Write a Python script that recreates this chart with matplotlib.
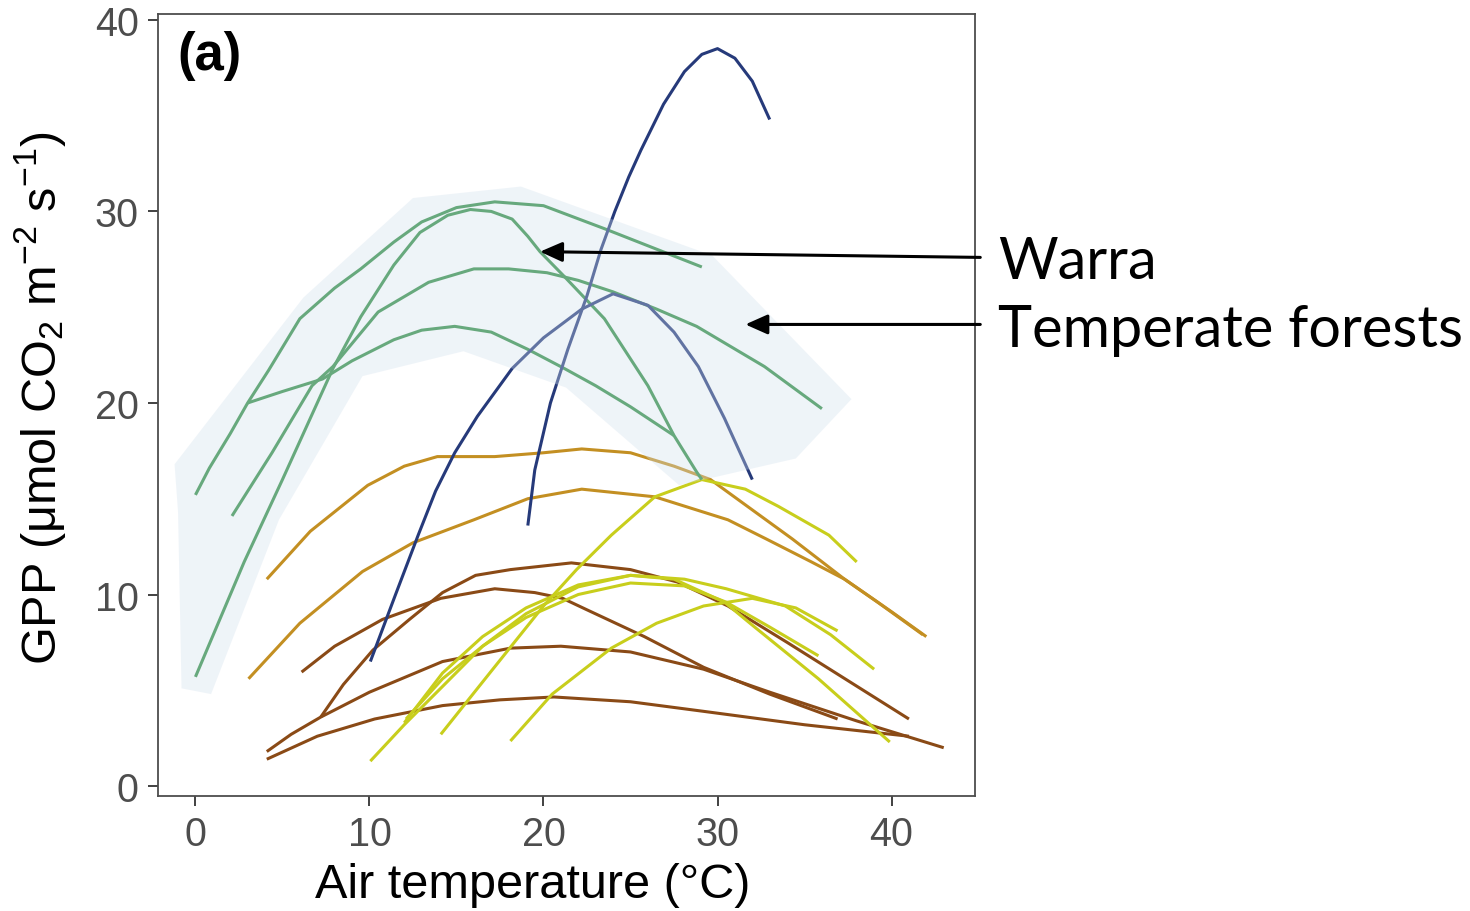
import matplotlib
matplotlib.use("Agg")
import matplotlib.pyplot as plt
from matplotlib.patches import Polygon

plt.rcParams['font.family'] = ['Liberation Sans', 'DejaVu Sans']
plt.rcParams['mathtext.fontset'] = 'custom'
plt.rcParams['mathtext.rm'] = 'Liberation Sans'
plt.rcParams['mathtext.default'] = 'regular'

# temperate forest sites (green), Warra is gB
gA_x = [0, 0.8, 2.0, 3.0, 4.2, 6.0, 8.0, 9.5, 11.4, 13.0, 15.0, 17.2, 20.0, 23.5, 29.1]
gA_y = [15.2, 16.6, 18.4, 20.0, 21.7, 24.4, 26.0, 27.0, 28.4, 29.45, 30.2, 30.5, 30.3, 29.1, 27.1]
gB_x = [0, 2.8, 5.0, 7.9, 9.5, 11.4, 12.9, 14.5, 15.8, 17.0, 18.2, 19.1, 19.8, 21.2, 23.5, 26.0, 27.5, 28.8, 29.1]
gB_y = [5.7, 11.7, 16.0, 21.8, 24.5, 27.2, 28.9, 29.8, 30.1, 30.0, 29.6, 28.7, 27.9, 26.6, 24.4, 20.9, 18.3, 16.4, 16.0]
gC_x = [2.1, 4.4, 6.7, 7.9, 10.5, 13.4, 16.0, 18.0, 20.2, 22.0, 24.0, 26.5, 28.8, 32.7, 36.0]
gC_y = [14.1, 17.4, 20.9, 21.9, 24.75, 26.3, 27.0, 27.0, 26.8, 26.4, 25.8, 24.9, 24.0, 21.9, 19.7]
gD_x = [3.0, 5.0, 7.3, 9.0, 11.4, 13.0, 14.9, 17.0, 19.1, 21.2, 23.0, 25.0, 27.5]
gD_y = [20.0, 20.6, 21.25, 22.2, 23.3, 23.8, 24.0, 23.7, 22.8, 21.8, 20.9, 19.8, 18.3]

# blue sites
b1_x = [19.1, 19.5, 20.4, 21.4, 22.5, 23.3, 24.1, 24.9, 25.6, 26.9, 28.1, 29.1, 30.0, 31.0, 32.0, 33.0]
b1_y = [13.6, 16.5, 20.0, 22.8, 25.6, 28.0, 30.0, 31.8, 33.2, 35.6, 37.3, 38.2, 38.5, 38.0, 36.8, 34.8]
b2_x = [10.05, 11.5, 12.8, 13.8, 14.9, 16.2, 18.2, 20.0, 22.2, 24.0, 26.0, 27.5, 28.9, 30.4, 32.0]
b2_y = [6.5, 10.0, 13.1, 15.4, 17.4, 19.3, 21.8, 23.4, 24.9, 25.7, 25.1, 23.7, 21.9, 19.2, 16.0]

# ochre sites
o1_x = [4.1, 6.6, 9.9, 12.0, 13.9, 17.2, 20.0, 22.2, 25.0, 27.5, 29.6, 34.3, 37.3, 40.0, 42.0]
o1_y = [10.8, 13.3, 15.7, 16.7, 17.2, 17.2, 17.4, 17.6, 17.4, 16.7, 16.0, 12.9, 10.8, 9.1, 7.8]
o2_x = [3.05, 6.0, 9.6, 12.5, 16.0, 19.1, 22.2, 26.4, 30.6, 32.8, 35.4, 37.3, 39.2, 41.8]
o2_y = [5.6, 8.5, 11.2, 12.7, 13.9, 15.0, 15.5, 15.1, 13.9, 12.9, 11.7, 10.8, 9.6, 7.9]

# brown sites
r1_x = [6.1, 8.0, 10.75, 14.1, 17.2, 19.5, 21.1, 22.5, 25.8, 29.2, 33.0, 36.9]
r1_y = [5.95, 7.3, 8.7, 9.8, 10.3, 10.1, 9.8, 9.2, 7.8, 6.2, 4.8, 3.5]
r2_x = [7.2, 8.5, 10.2, 12.3, 14.2, 16.1, 18.1, 21.6, 25.0, 27.7, 30.6, 34.0, 37.5, 41.0]
r2_y = [3.6, 5.3, 7.1, 8.7, 10.1, 11.0, 11.3, 11.65, 11.3, 10.65, 9.4, 7.5, 5.5, 3.5]
r3_x = [4.1, 5.5, 7.2, 10.0, 14.2, 18.1, 21.0, 25.0, 29.2, 33.0, 38.0, 43.0]
r3_y = [1.8, 2.7, 3.6, 4.9, 6.5, 7.2, 7.3, 7.0, 6.1, 4.9, 3.4, 2.0]
r4_x = [4.1, 7.0, 10.3, 14.2, 17.5, 20.6, 25.0, 29.2, 35.0, 41.0]
r4_y = [1.4, 2.6, 3.5, 4.2, 4.5, 4.65, 4.4, 3.9, 3.2, 2.6]

# yellow sites
yA_x = [14.1, 17.0, 20.0, 21.9, 23.9, 26.4, 29.1, 31.6, 33.5, 36.4, 38.0]
yA_y = [2.7, 6.0, 9.4, 11.3, 13.1, 15.1, 16.0, 15.5, 14.6, 13.1, 11.7]
yB_x = [10.05, 12.0, 14.2, 16.5, 19.0, 22.0, 25.0, 27.5, 30.4, 32.0, 35.8, 39.9]
yB_y = [1.3, 3.2, 5.2, 7.3, 9.0, 10.4, 11.0, 10.8, 9.6, 8.4, 5.6, 2.3]
yC_x = [12.0, 14.2, 16.5, 19.0, 22.0, 25.0, 28.1, 30.5, 33.9, 36.5, 39.0]
yC_y = [3.3, 5.9, 7.8, 9.3, 10.5, 11.0, 10.8, 10.3, 9.4, 7.9, 6.1]
yD_x = [12.1, 14.2, 16.5, 19.0, 22.0, 25.0, 28.1, 30.5, 33.0, 35.8]
yD_y = [3.5, 5.6, 7.3, 8.8, 10.0, 10.6, 10.45, 9.6, 8.3, 6.8]
yE_x = [18.1, 20.5, 23.9, 26.5, 29.2, 32.0, 34.5, 36.9]
yE_y = [2.35, 4.8, 7.2, 8.5, 9.4, 9.8, 9.3, 8.1]

# envelope around the temperate forest curves
hull_x = [-1.2, 6.2, 12.5, 18.7, 29.7, 37.7, 34.5, 27.8, 21.3, 15.4, 9.6, 4.8, 0.9, -0.8, -1.0]
hull_y = [16.8, 25.5, 30.7, 31.3, 27.7, 20.2, 17.1, 15.7, 20.8, 22.7, 21.4, 13.9, 4.8, 5.1, 14.3]

c_green = '#2f8c42'
c_navy = '#263a7a'
c_ochre = '#c38f22'
c_brown = '#8a4a16'
c_yellow = '#c8ce1c'

groups = [
    (c_ochre, [(o1_x, o1_y), (o2_x, o2_y)]),
    (c_brown, [(r1_x, r1_y), (r2_x, r2_y), (r3_x, r3_y), (r4_x, r4_y)]),
    (c_yellow, [(yA_x, yA_y), (yB_x, yB_y), (yC_x, yC_y), (yD_x, yD_y), (yE_x, yE_y)]),
    (c_green, [(gA_x, gA_y), (gB_x, gB_y), (gC_x, gC_y), (gD_x, gD_y)]),
    (c_navy, [(b1_x, b1_y), (b2_x, b2_y)]),
]

fig = plt.figure(figsize=(14.7, 9.12), dpi=100)
ax = fig.add_axes([0.1075, 0.1261, 0.5558, 0.8575])

for col, curves in groups:
    for xs, ys in curves:
        ax.plot(xs, ys, color=col, lw=2.2, solid_joinstyle='round',
                solid_capstyle='butt', zorder=2)

# translucent envelope drawn over the lines
ax.add_patch(Polygon(list(zip(hull_x, hull_y)), closed=True,
                     facecolor=(0.82, 0.877, 0.931), alpha=0.35,
                     edgecolor='none', zorder=3))

ax.set_xlim(-2.15, 44.8)
ax.set_ylim(-0.52, 40.31)
ax.set_xticks([0, 10, 20, 30, 40])
ax.set_yticks([0, 10, 20, 30, 40])
for s in ax.spines.values():
    s.set_color('#4d4d4d')
    s.set_linewidth(1.3)
ax.tick_params(direction='out', length=7, width=1.3, color='#333333',
               labelsize=28.5, labelcolor='#4d4d4d', pad=7)

ax.set_xlabel('Air temperature (°C)', fontsize=35)
ax.set_ylabel('GPP (μmol CO$_2$ m$^{-2}$ s$^{-1}$)', fontsize=35)
ax.xaxis.set_label_coords(0.459, -0.085)
ax.yaxis.set_label_coords(-0.11, 0.51)

ax.text(0.024, 0.98, '(a)', transform=ax.transAxes, fontsize=38,
        fontweight='bold', ha='left', va='top', zorder=5)

arrow = dict(arrowstyle='-|>,head_length=0.9,head_width=0.4', color='black',
             lw=2.2, shrinkA=0, shrinkB=0, mutation_scale=15)
ax.annotate('', xy=(19.8, 27.9), xytext=(45.1, 27.6), arrowprops=arrow,
            annotation_clip=False, zorder=6)
ax.annotate('', xy=(31.6, 24.1), xytext=(45.1, 24.1), arrowprops=arrow,
            annotation_clip=False, zorder=6)

fig.text(0.679, 0.712, 'Warra', fontsize=41.5, family=['Lato', 'DejaVu Sans'],
         ha='left', va='center')
fig.text(0.679, 0.638, 'Temperate forests', fontsize=41.5,
         family=['Lato', 'DejaVu Sans'], ha='left', va='center')

fig.savefig('out.png', dpi=100)
